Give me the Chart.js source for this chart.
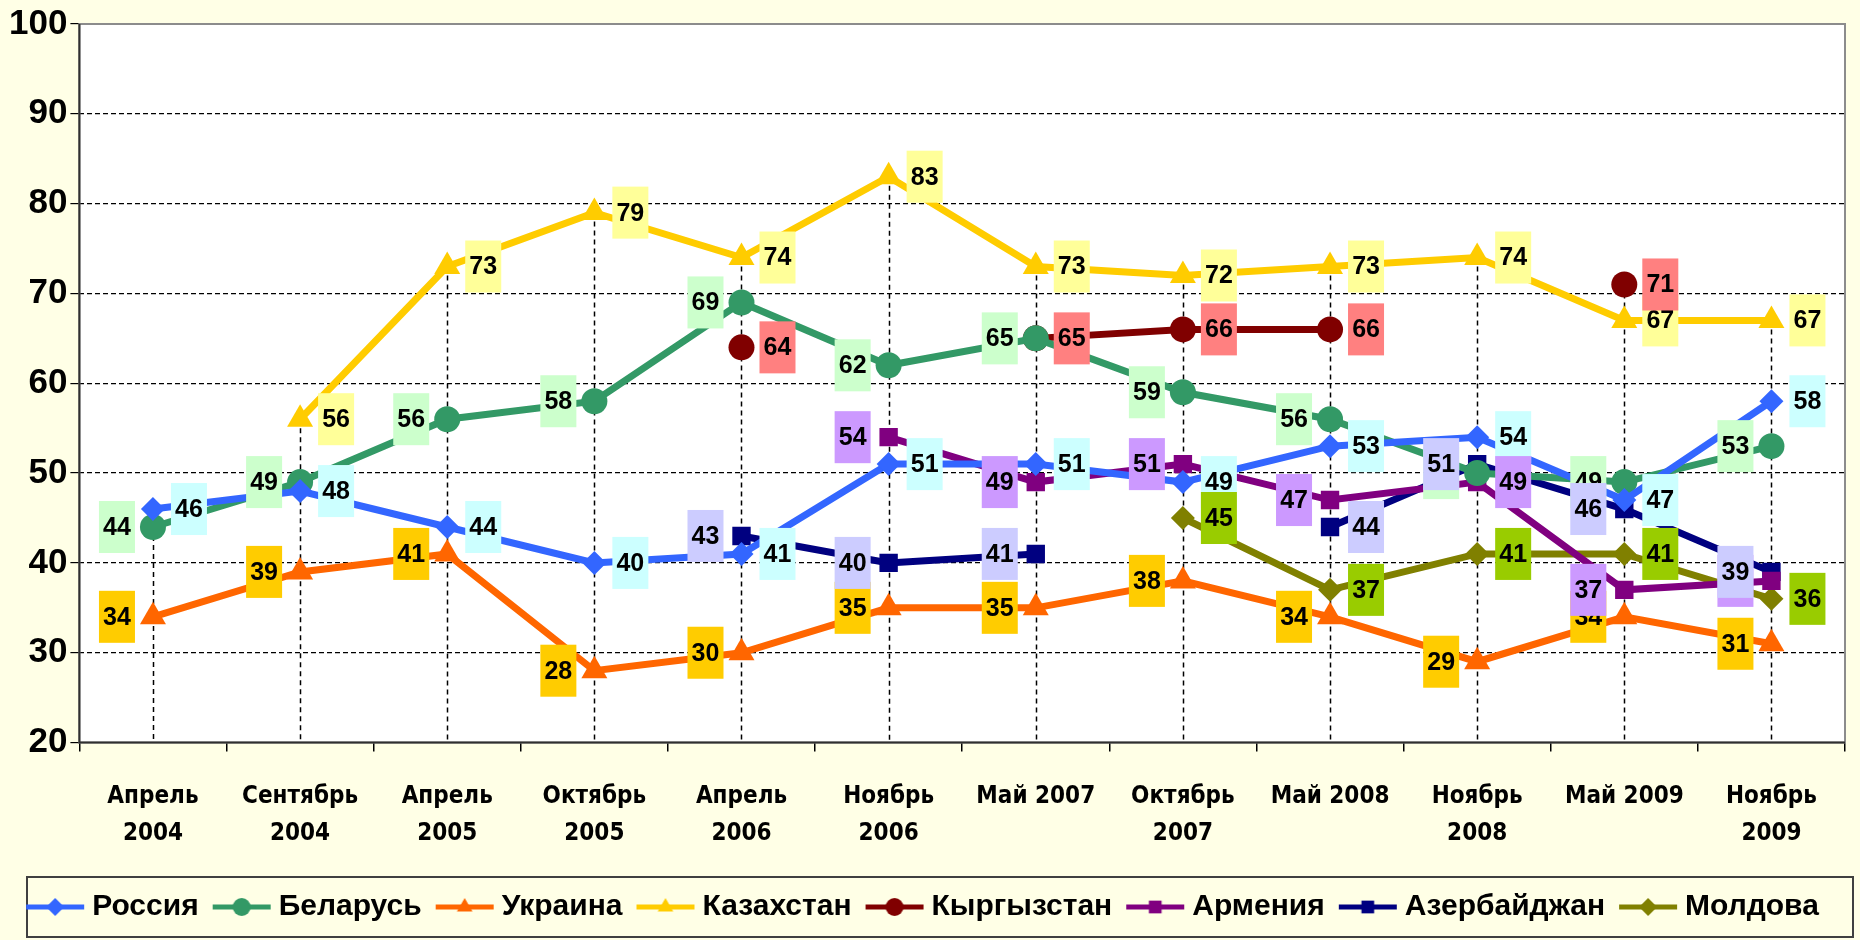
<!DOCTYPE html>
<html>
<head>
<meta charset="utf-8">
<script src="https://cdn.jsdelivr.net/npm/chart.js@4.4.0/dist/chart.umd.min.js"></script>
<style>
  html, body { margin: 0; padding: 0; background: #ffffe6; }
  #wrap { width: 1860px; height: 940px; }
</style>
</head>
<body>
<div id="wrap"><canvas id="chart" width="1860" height="940"></canvas></div>
<script>
const categories = [['Апрель', '2004'], ['Сентябрь', '2004'], ['Апрель', '2005'], ['Октябрь', '2005'],
  ['Апрель', '2006'], ['Ноябрь', '2006'], 'Май 2007', ['Октябрь', '2007'], 'Май 2008',
  ['Ноябрь', '2008'], 'Май 2009', ['Ноябрь', '2009']];

const russia     = [46, 48, 44, 40, 41, 51, 51, 49, 53, 54, 47, 58];
const belarus    = [44, 49, 56, 58, 69, 62, 65, 59, 56, 50, 49, 53];
const ukraine    = [34, 39, 41, 28, 30, 35, 35, 38, 34, 29, 34, 31];
const kazakhstan = [null, 56, 73, 79, 74, 83, 73, 72, 73, 74, 67, 67];
const kyrgyzstan = [null, null, null, null, 64, null, 65, 66, 66, null, 71, null];
const armenia    = [null, null, null, null, null, 54, 49, 51, 47, 49, 37, 38];
const azerbaijan = [null, null, null, null, 43, 40, 41, null, 44, 51, 46, 39];
const moldova    = [null, null, null, null, null, null, null, 45, 37, 41, 41, 36];

const yMin = 20, yMax = 100, yStep = 10;

const FONT = '"Liberation Sans", Arial, sans-serif';
const NARROW = '"Liberation Sans Narrow", "Arial Narrow", "DejaVu Sans Condensed", sans-serif';

// label side per point: 'L' left of marker, 'R' right
const armeniaSides    = ['L', 'L', 'L', 'L', 'L', 'L', 'L', 'L', 'L', 'R', 'L', 'L'];
const azerbaijanSides = ['L', 'L', 'L', 'L', 'L', 'L', 'L', 'L', 'R', 'L', 'L', 'L'];

function series(label, data, color, style, radius, labelBg, labelSide) {
  return {
    label, data,
    borderColor: color,
    backgroundColor: color,
    pointBackgroundColor: color,
    pointBorderColor: color,
    pointBorderWidth: 0,
    pointStyle: style,
    pointRadius: radius,
    pointHoverRadius: radius,
    borderWidth: 7,
    tension: 0,
    spanGaps: false,
    labelBg, labelSide
  };
}

const datasets = [
  series('Россия', russia, '#3366ff', 'rectRot', 12, '#ccffff', 'R'),
  series('Беларусь', belarus, '#339966', 'circle', 13, '#ccffcc', 'L'),
  series('Украина', ukraine, '#ff6600', 'triangle', 15, '#ffcc00', 'L'),
  series('Казахстан', kazakhstan, '#ffcc00', 'triangle', 15, '#ffff99', 'R'),
  series('Кыргызстан', kyrgyzstan, '#800000', 'circle', 13, '#ff8080', 'R'),
  series('Армения', armenia, '#800080', 'rect', 13, '#cc99ff', armeniaSides),
  series('Азербайджан', azerbaijan, '#000080', 'rect', 13, '#ccccff', azerbaijanSides),
  series('Молдова', moldova, '#808000', 'rectRot', 12, '#99cc00', 'R')
];

function swatch(ds) {
  const c = document.createElement('canvas');
  c.width = 60; c.height = 30;
  const g = c.getContext('2d');
  g.strokeStyle = ds.borderColor;
  g.lineWidth = 5;
  g.beginPath(); g.moveTo(1, 15); g.lineTo(59, 15); g.stroke();
  g.fillStyle = ds.borderColor;
  Chart.helpers.drawPoint(g, {pointStyle: ds.pointStyle, radius: 9, rotation: 0, borderWidth: 0}, 30, 15);
  return c;
}

const backdrop = {
  id: 'backdrop',
  beforeDraw(chart) {
    const {ctx, chartArea: a} = chart;
    ctx.save();
    ctx.fillStyle = '#ffffe6';
    ctx.fillRect(0, 0, chart.width, chart.height);
    ctx.fillStyle = '#ffffff';
    ctx.fillRect(a.left, a.top, a.right - a.left, a.bottom - a.top);
    const boxes = chart.legend.legendHitBoxes;
    if (boxes && boxes.length) {
      const cy = boxes[0].top + boxes[0].height / 2;
      ctx.strokeStyle = '#404040';
      ctx.lineWidth = 2;
      ctx.strokeRect(27, cy - 30, chart.width - 34, 60);
    }
    ctx.restore();
  }
};

const dropLines = {
  id: 'dropLines',
  beforeDatasetsDraw(chart) {
    const {ctx, chartArea: a, scales: {x, y}} = chart;
    ctx.save();
    ctx.strokeStyle = '#000';
    ctx.lineWidth = 1.5;
    ctx.setLineDash([5, 4]);
    categories.forEach((c, i) => {
      const vals = chart.data.datasets.map(d => d.data[i]).filter(v => v != null);
      if (!vals.length) return;
      const top = y.getPixelForValue(Math.max(...vals));
      const px = Math.round(x.getPixelForValue(i)) + 0.5;
      ctx.beginPath(); ctx.moveTo(px, top); ctx.lineTo(px, a.bottom); ctx.stroke();
    });
    ctx.setLineDash([]);
    ctx.strokeStyle = '#8c8c8c';
    ctx.lineWidth = 2;
    ctx.strokeRect(a.left, a.top, a.right - a.left, a.bottom - a.top);
    ctx.strokeStyle = '#303030';
    ctx.beginPath();
    ctx.moveTo(a.left, a.top); ctx.lineTo(a.left, a.bottom); ctx.lineTo(a.right, a.bottom);
    ctx.stroke();
    ctx.restore();
  }
};

const valueLabels = {
  id: 'valueLabels',
  afterDatasetsDraw(chart) {
    const ctx = chart.ctx;
    ctx.save();
    ctx.font = 'bold 25px ' + FONT;
    ctx.textAlign = 'center';
    ctx.textBaseline = 'middle';
    chart.data.datasets.forEach((ds, di) => {
      const meta = chart.getDatasetMeta(di);
      meta.data.forEach((pt, i) => {
        const v = ds.data[i];
        if (v == null) return;
        const side = Array.isArray(ds.labelSide) ? ds.labelSide[i] : ds.labelSide;
        const cx = pt.x + (side === 'L' ? -36 : 36);
        const cy = pt.y;
        ctx.fillStyle = ds.labelBg;
        ctx.fillRect(cx - 18, cy - 26, 36, 52);
        ctx.fillStyle = '#000';
        ctx.fillText(String(Math.round(v)), cx, cy + 1);
      });
    });
    ctx.restore();
  }
};

new Chart(document.getElementById('chart'), {
  type: 'line',
  data: { labels: categories, datasets },
  plugins: [backdrop, dropLines, valueLabels],
  options: {
    responsive: false,
    animation: false,
    devicePixelRatio: 1,
    layout: { padding: { top: 4, left: 6, right: 14, bottom: 8 } },
    plugins: {
      tooltip: { enabled: false },
      legend: {
        position: 'bottom',
        labels: {
          usePointStyle: true,
          pointStyleWidth: 44,
          boxHeight: 28,
          padding: 21,
          color: '#000',
          font: { family: FONT, size: 30, weight: 'bold' },
          generateLabels(chart) {
            return chart.data.datasets.map((ds, i) => ({
              text: ds.label,
              pointStyle: swatch(ds),
              fillStyle: ds.borderColor,
              strokeStyle: 'rgba(0,0,0,0)',
              lineWidth: 0,
              fontColor: '#000',
              hidden: false,
              datasetIndex: i
            }));
          }
        }
      }
    },
    scales: {
      x: {
        offset: true,
        afterFit(scale) { scale.height -= 8; },
        grid: { offset: true, drawOnChartArea: false, drawTicks: true, tickLength: 9, tickColor: '#000', lineWidth: 1.5 },
        border: { display: false },
        ticks: {
          autoSkip: false, maxRotation: 0, padding: 27, color: '#000',
          font: { family: NARROW, size: 24, weight: 'bold', lineHeight: 1.53 }
        }
      },
      y: {
        min: yMin, max: yMax,
        grid: {
          color: c => (c.tick && (c.tick.value === yMin || c.tick.value === yMax)) ? 'rgba(0,0,0,0)' : '#000',
          tickColor: '#000', tickLength: 9, lineWidth: 1.2
        },
        border: { display: false, dash: [5, 3] },
        ticks: {
          stepSize: yStep, padding: 3, color: '#000',
          font: { family: FONT, size: 35, weight: 'bold' }
        }
      }
    }
  }
});
</script>
</body>
</html>
